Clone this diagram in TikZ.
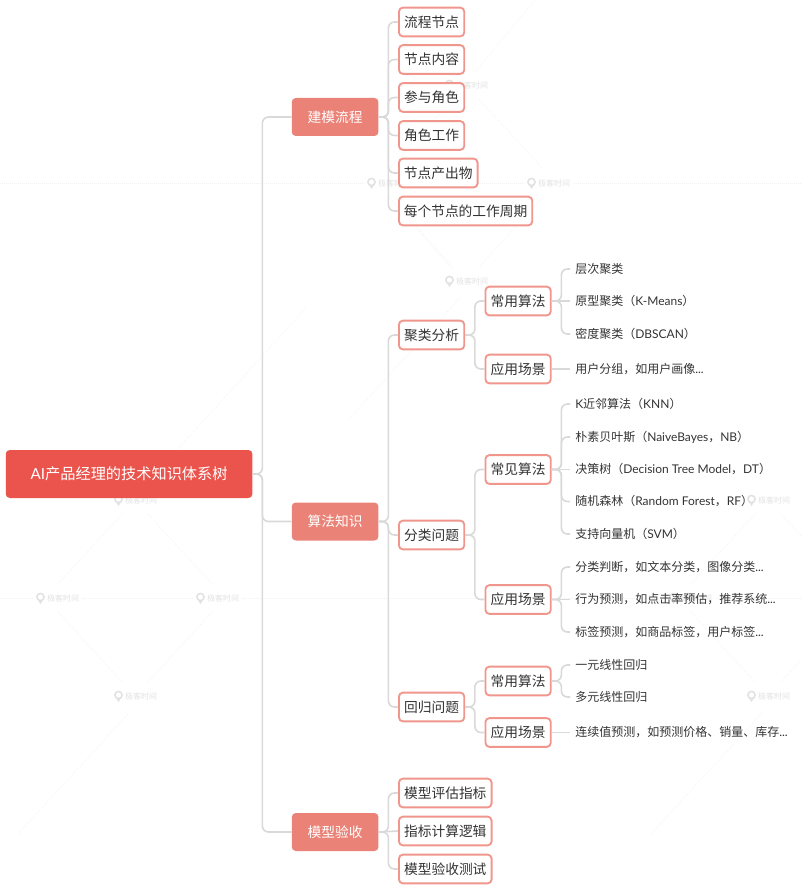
\documentclass[tikz,border=0pt]{standalone}
\usepackage{fontspec}
\setmainfont{Noto Sans CJK SC}
\newfontfamily\latinpart{Lato}
\newcommand{\lat}[1]{{\latinpart #1}}
\definecolor{rootred}{HTML}{EB544D}
\definecolor{mainred}{HTML}{EA8277}
\definecolor{edgered}{HTML}{F1968C}
\definecolor{linegrey}{HTML}{D9D9D9}
\definecolor{inkgrey}{HTML}{333333}
\definecolor{markgrey}{HTML}{E2E2E2}
\definecolor{guidegrey}{HTML}{F0F0F0}
\tikzset{
  x=0.75pt,y=-0.75pt,
  nodetext/.style={font=\fontsize{10.3pt}{12pt}\selectfont},
  rootbox/.style={anchor=west,font=\fontsize{11.4pt}{13pt}\selectfont,fill=rootred,text=white,rounded corners=3pt,minimum width=185pt,minimum height=36pt,inner sep=0pt},
  mainbox/.style={nodetext,anchor=west,fill=mainred,text=white,rounded corners=3pt,minimum width=65pt,minimum height=28.5pt,inner sep=0pt},
  subbox/.style={nodetext,anchor=west,draw=edgered,line width=1.4pt,fill=white,text=inkgrey,rounded corners=3pt,minimum height=21.6pt,inner sep=0pt},
  leaf/.style={anchor=west,text=inkgrey,font=\fontsize{9pt}{11pt}\selectfont,inner xsep=3.75pt,inner ysep=0pt},
  conn/.style={draw=linegrey,line width=1.2pt,rounded corners=4.5pt},
  wmark/.style={text=markgrey,font=\fontsize{6pt}{7pt}\selectfont,inner sep=0pt},
  guide/.style={draw=guidegrey,line width=0.5pt,densely dotted},
}
\begin{document}
\begin{tikzpicture}
\useasboundingbox (0,0) rectangle (801,888);
\clip (0,0) rectangle (801,888);
% watermark layer
\draw[guide] (0,183) -- (801,183);
\draw[guide] (0,598) -- (801,598);
\foreach \cx/\cy in {466/183,135/598,768/598}{
  \draw[guide] (\cx-12,\cy-85) -- (\cx-78,\cy-13);
  \draw[guide] (\cx+12,\cy-85) -- (\cx+78,\cy-13);
  \draw[guide] (\cx-78,\cy+13) -- (\cx-12,\cy+85);
  \draw[guide] (\cx+78,\cy+13) -- (\cx+12,\cy+85);
}
\foreach \mx/\my in {466/281,135/696,768/696}{
  \draw[guide] (\mx-6,\my+17) -- (\mx-118,\my+139);
}
\draw[guide] (145,485) -- (306,308);
\draw[guide] (475,72) -- (535,0);
\draw[guide] (418,230) -- (453,270);
\foreach \i/\mx/\my in {a/466/85,b/388/183,c/548/183,d/466/281,e/135/500,f/57/598,g/217/598,h/135/696,j/768/500,k/690/598,l/768/696}{
  \node[wmark,fill=white,inner xsep=2pt] (wm\i) at (\mx+6,\my) {极客时间};
  \fill[white] (\mx-16.5,\my) circle (7);
  \draw[markgrey,line width=1.2pt] (\mx-16.5,\my-1) circle (3.6);
  \fill[markgrey] (\mx-19,\my+2) -- (\mx-14,\my+2) -- (\mx-16.5,\my+6) -- cycle;
}
% root and main topics
\node[rootbox] (root) at (5.5,474) {\lat{AI}产品经理的技术知识体系树};
\node[mainbox] (jm) at (291.5,117) {建模流程};
\node[mainbox] (sf) at (291.5,521.5) {算法知识};
\node[mainbox] (ys) at (291.5,832) {模型验收};
% second level
\node[subbox,minimum width=49pt] (a1) at (398,22) {流程节点};
\node[subbox,minimum width=49pt] (a2) at (398,59.5) {节点内容};
\node[subbox,minimum width=49pt] (a3) at (398,97.5) {参与角色};
\node[subbox,minimum width=49pt] (a4) at (398,135.5) {角色工作};
\node[subbox,minimum width=59pt] (a5) at (398,173) {节点产出物};
\node[subbox,minimum width=100pt] (a6) at (398,211) {每个节点的工作周期};
\node[subbox,minimum width=49pt] (b1) at (398,335) {聚类分析};
\node[subbox,minimum width=49pt] (b2) at (398,535) {分类问题};
\node[subbox,minimum width=49pt] (b3) at (398,707) {回归问题};
\node[subbox,minimum width=69.5pt] (c1) at (398,793) {模型评估指标};
\node[subbox,minimum width=69.5pt] (c2) at (398,831) {指标计算逻辑};
\node[subbox,minimum width=69.5pt] (c3) at (398,869) {模型验收测试};
% third level
\node[subbox,minimum width=49pt] (d1) at (484.5,301) {常用算法};
\node[subbox,minimum width=49pt] (d2) at (484.5,369) {应用场景};
\node[subbox,minimum width=49pt] (d3) at (484.5,469.5) {常见算法};
\node[subbox,minimum width=49pt] (d4) at (484.5,599.5) {应用场景};
\node[subbox,minimum width=49pt] (d5) at (484.5,681) {常用算法};
\node[subbox,minimum width=49pt] (d6) at (484.5,732.5) {应用场景};
% leaves
\node[leaf] (e1) at (570,269) {层次聚类};
\node[leaf] (e2) at (570,301) {原型聚类（\lat{K-Means}）};
\node[leaf] (e3) at (570,334) {密度聚类（\lat{DBSCAN}）};
\node[leaf] (e4) at (570,369) {用户分组，如用户画像\lat{...}};
\node[leaf] (f1) at (570,404) {\lat{K}近邻算法（\lat{KNN}）};
\node[leaf] (f2) at (570,437) {朴素贝叶斯（\lat{NaiveBayes}，\lat{NB}）};
\node[leaf] (f3) at (570,469.5) {决策树（\lat{Decision Tree Model}，\lat{DT}）};
\node[leaf] (f4) at (570,501.5) {随机森林（\lat{Random Forest}，\lat{RF}）};
\node[leaf] (f5) at (570,534) {支持向量机（\lat{SVM}）};
\node[leaf] (g1) at (570,567) {分类判断，如文本分类，图像分类\lat{...}};
\node[leaf] (g2) at (570,599.5) {行为预测，如点击率预估，推荐系统\lat{...}};
\node[leaf] (g3) at (570,632) {标签预测，如商品标签，用户标签\lat{...}};
\node[leaf] (h1) at (570,665) {一元线性回归};
\node[leaf] (h2) at (570,697) {多元线性回归};
\node[leaf] (h3) at (570,732.5) {连续值预测，如预测价格、销量、库存\lat{...}};
% connectors
\foreach \p/\c in {root/jm,root/sf,root/ys,
  jm/a1,jm/a2,jm/a3,jm/a4,jm/a5,jm/a6,
  sf/b1,sf/b2,sf/b3,
  ys/c1,ys/c3,
  b1/d1,b1/d2,b2/d3,b2/d4,b3/d5,b3/d6,
  d1/e1,d1/e3,
  d3/f1,d3/f2,d3/f4,d3/f5,
  d4/g1,d4/g3,d5/h1,d5/h2}{
  \draw[conn] (\p.east) -- ++(9.7,0) |- (\c.west);
}
\foreach \p/\c in {ys/c2,d1/e2,d2/e4,d3/f3,d4/g2,d6/h3}{
  \draw[conn] (\p.east) -- (\c.west);
}
\end{tikzpicture}
\end{document}
